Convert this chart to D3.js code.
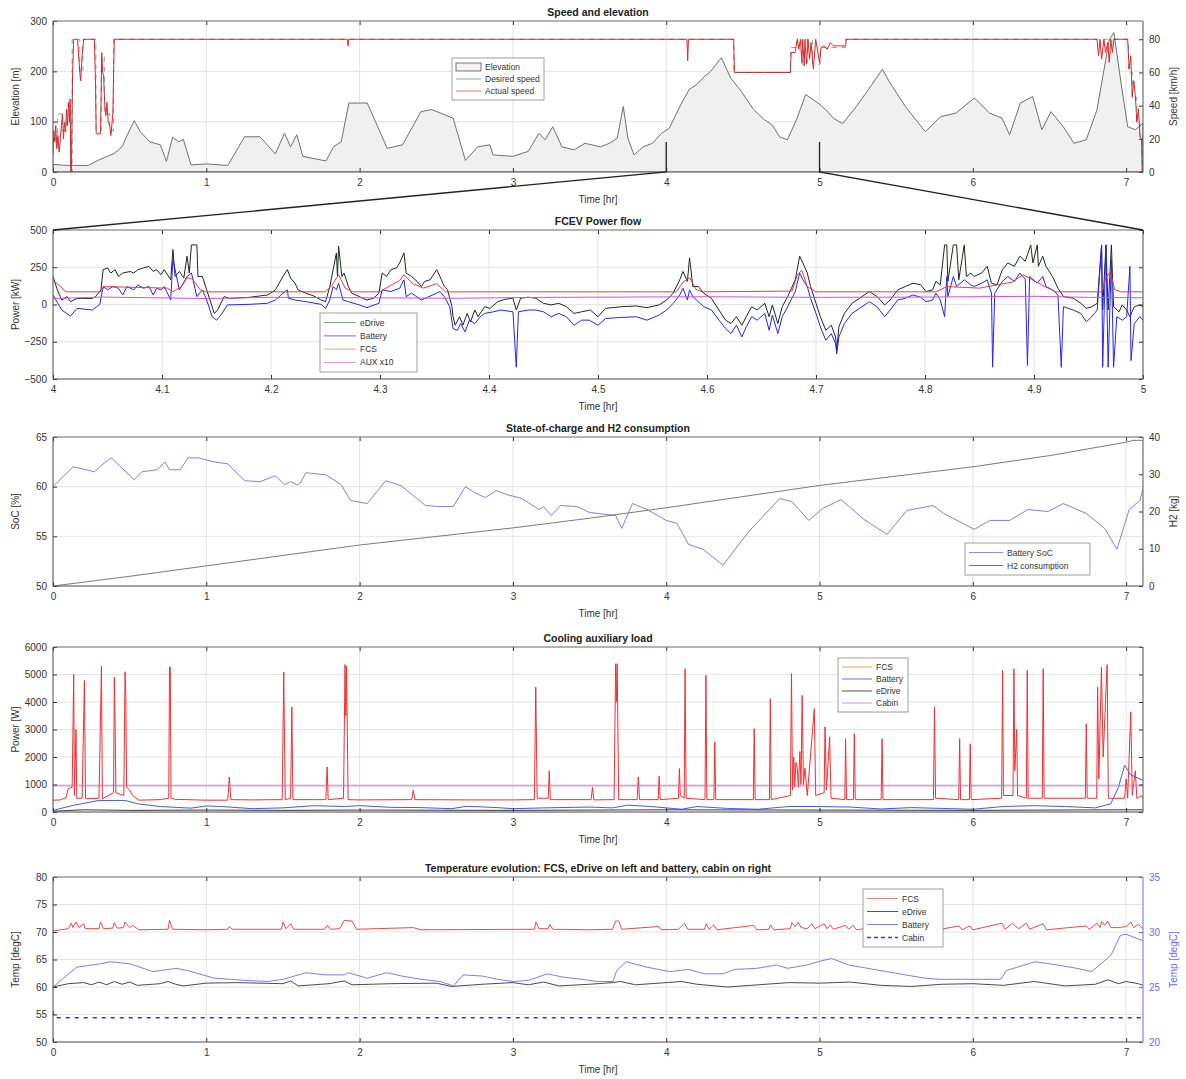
<!DOCTYPE html>
<html>
<head>
<meta charset="utf-8">
<script src="https://cdn.jsdelivr.net/npm/d3@7"></script>
<style>
  body { margin: 0; background: #fff; }
  svg { font-family: "Liberation Sans", Arial, Helvetica, sans-serif; }
</style>
</head>
<body>
<svg id="chart" width="1186" height="1079"></svg>
<script>
// ---------------- data ----------------
// tick values
const hourTicks = [0, 1, 2, 3, 4, 5, 6, 7];
const zoomHourTicks = [4, 4.1, 4.2, 4.3, 4.4, 4.5, 4.6, 4.7, 4.8, 4.9, 5];
const elevTicks = [0, 100, 200, 300];
const speedTicks = [0, 20, 40, 60, 80];
const powerKwTicks = [-500, -250, 0, 250, 500];
const socTicks = [50, 55, 60, 65];
const h2Ticks = [0, 10, 20, 30, 40];
const coolTicks = [0, 1000, 2000, 3000, 4000, 5000, 6000];
const tempLeftTicks = [50, 55, 60, 65, 70, 75, 80];
const tempRightTicks = [20, 25, 30, 35];

// route elevation [hr, m]
const elevation = [[0,15],[0.05,14],[0.1,13],[0.23,13],[0.3,24],[0.4,37],[0.45,50],[0.49,77],[0.53,102],[0.57,80],[0.63,60],[0.7,54],[0.74,21],[0.78,69],[0.82,60],[0.85,65],[0.9,14],[1.0,16],[1.14,13],[1.25,70],[1.35,70],[1.45,36],[1.51,77],[1.55,50],[1.59,74],[1.63,31],[1.78,22],[1.83,50],[1.88,60],[1.93,137],[2.05,137],[2.18,47],[2.28,54],[2.4,120],[2.47,124],[2.61,107],[2.69,23],[2.77,50],[2.85,54],[2.87,34],[3.0,31],[3.1,41],[3.17,77],[3.21,64],[3.26,90],[3.32,50],[3.4,44],[3.47,57],[3.57,50],[3.63,57],[3.68,67],[3.72,130],[3.75,67],[3.79,34],[3.85,50],[3.91,57],[3.97,77],[4.02,87],[4.1,137],[4.15,164],[4.2,174],[4.25,190],[4.29,200],[4.36,227],[4.42,187],[4.49,160],[4.57,124],[4.64,104],[4.69,94],[4.74,70],[4.79,64],[4.85,104],[4.91,154],[4.99,137],[5.04,124],[5.09,107],[5.15,96],[5.24,130],[5.31,160],[5.41,204],[5.46,177],[5.56,130],[5.69,80],[5.79,110],[5.89,117],[6.01,147],[6.11,117],[6.19,107],[6.24,74],[6.31,137],[6.39,150],[6.45,84],[6.51,120],[6.59,90],[6.66,57],[6.74,64],[6.81,124],[6.89,263],[6.92,277],[6.97,170],[7.01,90],[7.06,84],[7.11,97]];

// actual vehicle speed [hr, km/h]
const actualSpeed = [[0,10],[0.005,25],[0.012,18],[0.018,28],[0.025,14],[0.032,22],[0.04,12],[0.048,20],[0.055,28],[0.062,35],[0.068,20],[0.075,30],[0.082,24],[0.088,38],[0.095,28],[0.102,42],[0.108,30],[0.112,44],[0.116,0],[0.12,0],[0.128,60],[0.135,80],[0.16,80],[0.175,60],[0.18,55],[0.19,70],[0.2,80],[0.27,80],[0.278,50],[0.282,23],[0.31,23],[0.318,72],[0.324,60],[0.33,58],[0.338,40],[0.345,34],[0.352,42],[0.36,30],[0.37,28],[0.378,22],[0.39,35],[0.4,80],[1.92,80],[1.925,76],[1.93,80],[4.135,80],[4.14,67],[4.145,80],[4.44,80],[4.445,60],[4.81,60],[4.815,72],[4.84,72],[4.855,80],[4.865,74],[4.875,80],[4.885,66],[4.89,80],[4.9,64],[4.905,80],[4.915,65],[4.925,80],[4.935,68],[4.945,78],[4.96,62],[4.975,80],[5.0,66],[5.01,75],[5.03,76],[5.05,74],[5.07,78],[5.09,76],[5.17,76],[5.175,80],[6.81,80],[6.82,70],[6.83,80],[6.84,68],[6.855,80],[6.865,72],[6.88,78],[6.89,66],[6.9,80],[6.91,72],[6.92,80],[7.01,80],[7.02,62],[7.03,70],[7.04,45],[7.05,55],[7.06,46],[7.07,30],[7.08,38],[7.09,22],[7.1,20],[7.105,0],[7.11,0]];

// desired speed (piecewise constant) [hr, km/h]
const desiredSpeed = [[0,20],[0.03,35],[0.06,25],[0.09,40],[0.116,0],[0.125,80],[0.175,60],[0.195,80],[0.28,25],[0.315,70],[0.335,35],[0.37,25],[0.395,80],[4.44,60],[4.81,75],[4.855,80],[4.885,65],[4.92,80],[4.955,65],[5.005,75],[5.17,80],[7.015,60],[7.04,45],[7.07,30],[7.09,20],[7.105,0],[7.11,0]];

// power flow between 4 and 5 hr [hr, kW]
const eDrivePower = [[4.000,188],[4.004,98],[4.008,30],[4.013,53],[4.016,19],[4.022,41],[4.036,41],[4.039,53],[4.044,98],[4.046,234],[4.050,245],[4.053,211],[4.057,234],[4.060,188],[4.064,211],[4.071,222],[4.074,211],[4.078,234],[4.083,245],[4.088,256],[4.092,222],[4.095,234],[4.099,200],[4.102,234],[4.108,166],[4.110,369],[4.112,188],[4.116,222],[4.120,177],[4.123,324],[4.125,211],[4.127,400],[4.132,400],[4.133,188],[4.137,188],[4.141,98],[4.144,30],[4.148,-60],[4.151,-37],[4.157,53],[4.162,41],[4.180,48],[4.197,64],[4.204,98],[4.211,188],[4.215,234],[4.218,177],[4.222,143],[4.225,98],[4.232,76],[4.239,58],[4.246,30],[4.250,19],[4.254,121],[4.257,234],[4.260,346],[4.261,188],[4.262,392],[4.265,188],[4.267,211],[4.271,121],[4.274,76],[4.281,53],[4.288,30],[4.294,42],[4.299,76],[4.302,211],[4.306,188],[4.310,234],[4.315,245],[4.318,279],[4.322,346],[4.324,211],[4.329,188],[4.334,155],[4.338,121],[4.341,155],[4.346,166],[4.352,234],[4.355,188],[4.359,121],[4.362,98],[4.366,-15],[4.367,-82],[4.369,-139],[4.373,-82],[4.376,-139],[4.380,-60],[4.383,-116],[4.387,-37],[4.390,-82],[4.396,-15],[4.401,-26],[4.408,19],[4.415,35],[4.422,42],[4.425,-37],[4.429,42],[4.436,49],[4.443,42],[4.450,8],[4.457,-3],[4.464,8],[4.471,-15],[4.478,-60],[4.485,-49],[4.493,-37],[4.500,-82],[4.507,-26],[4.521,-15],[4.535,-10],[4.545,-21],[4.556,-3],[4.563,30],[4.569,76],[4.575,166],[4.578,222],[4.582,155],[4.584,313],[4.587,121],[4.592,121],[4.597,76],[4.604,42],[4.611,-37],[4.617,-105],[4.622,-128],[4.627,-82],[4.632,-139],[4.636,-82],[4.641,-15],[4.646,-37],[4.653,8],[4.657,-82],[4.660,-3],[4.665,-128],[4.669,-15],[4.674,53],[4.681,166],[4.685,324],[4.688,279],[4.692,211],[4.695,121],[4.700,8],[4.704,-82],[4.709,-173],[4.714,-139],[4.718,-218],[4.719,-308],[4.721,-150],[4.726,-60],[4.733,8],[4.740,42],[4.749,87],[4.756,53],[4.763,-3],[4.768,30],[4.775,98],[4.782,121],[4.789,143],[4.796,132],[4.801,87],[4.807,98],[4.810,155],[4.814,132],[4.818,400],[4.820,400],[4.821,155],[4.826,400],[4.829,400],[4.831,166],[4.836,400],[4.838,188],[4.842,211],[4.845,188],[4.852,211],[4.857,256],[4.861,143],[4.866,132],[4.871,234],[4.876,279],[4.882,256],[4.887,324],[4.892,290],[4.897,400],[4.899,279],[4.903,400],[4.904,256],[4.908,324],[4.911,256],[4.917,188],[4.922,109],[4.927,53],[4.936,42],[4.943,8],[4.948,-26],[4.953,-15],[4.958,8],[4.962,400],[4.963,-37],[4.966,400],[4.968,-37],[4.971,400],[4.973,-15],[4.978,-49],[4.981,-3],[4.985,-37],[4.988,-82],[4.992,-15],[4.997,-3],[5.000,-15]];

const batteryPower = [[4.000,64],[4.008,-37],[4.016,-78],[4.022,-26],[4.036,-37],[4.043,1],[4.046,121],[4.050,98],[4.055,121],[4.060,109],[4.064,64],[4.068,121],[4.074,98],[4.078,132],[4.083,109],[4.088,121],[4.092,64],[4.095,109],[4.099,98],[4.102,121],[4.108,30],[4.110,301],[4.116,98],[4.123,188],[4.127,211],[4.132,53],[4.137,98],[4.141,30],[4.146,-82],[4.150,-105],[4.154,-71],[4.160,-3],[4.180,1],[4.197,8],[4.204,30],[4.211,76],[4.215,98],[4.216,42],[4.222,30],[4.232,19],[4.246,1],[4.250,-26],[4.254,30],[4.257,121],[4.260,98],[4.262,143],[4.266,30],[4.271,19],[4.281,-3],[4.288,-21],[4.299,8],[4.302,98],[4.310,87],[4.318,109],[4.322,166],[4.324,53],[4.329,76],[4.338,30],[4.352,76],[4.355,87],[4.359,53],[4.364,-15],[4.367,-161],[4.371,-173],[4.374,-128],[4.378,-184],[4.382,-105],[4.387,-128],[4.392,-82],[4.396,-60],[4.404,-49],[4.411,-37],[4.422,-49],[4.425,-421],[4.427,-49],[4.436,-37],[4.443,-37],[4.450,-49],[4.457,-82],[4.464,-60],[4.471,-82],[4.478,-139],[4.485,-105],[4.492,-105],[4.500,-139],[4.507,-94],[4.521,-87],[4.535,-82],[4.545,-105],[4.556,-71],[4.563,-37],[4.569,8],[4.575,64],[4.578,109],[4.582,30],[4.584,98],[4.587,53],[4.597,-15],[4.604,-37],[4.611,-105],[4.617,-161],[4.622,-195],[4.627,-139],[4.632,-218],[4.636,-150],[4.641,-82],[4.646,-105],[4.653,-60],[4.657,-173],[4.660,-71],[4.665,-195],[4.669,-82],[4.674,-15],[4.681,87],[4.685,211],[4.688,166],[4.692,121],[4.695,42],[4.700,-60],[4.704,-150],[4.709,-240],[4.714,-195],[4.718,-263],[4.719,-331],[4.721,-218],[4.726,-128],[4.733,-60],[4.740,-26],[4.749,19],[4.756,-15],[4.763,-82],[4.768,-37],[4.775,30],[4.782,42],[4.789,64],[4.796,49],[4.801,19],[4.807,30],[4.810,76],[4.814,30],[4.818,-82],[4.820,188],[4.821,53],[4.826,188],[4.829,121],[4.836,166],[4.842,132],[4.845,121],[4.852,143],[4.857,166],[4.861,76],[4.862,-421],[4.864,76],[4.871,155],[4.876,188],[4.882,155],[4.887,211],[4.892,170],[4.894,-410],[4.896,188],[4.903,143],[4.908,188],[4.911,121],[4.917,98],[4.922,64],[4.925,-421],[4.927,-15],[4.936,-37],[4.943,-60],[4.948,-116],[4.953,-82],[4.958,-37],[4.962,400],[4.963,-421],[4.966,400],[4.968,-421],[4.971,301],[4.973,-421],[4.976,-82],[4.981,-105],[4.985,-82],[4.988,256],[4.989,-376],[4.992,-128],[4.997,-82],[5.000,-105]];

const fcsPower = [[4.000,165],[4.012,85],[4.044,85],[4.047,120],[4.105,110],[4.110,85],[4.118,120],[4.123,180],[4.128,170],[4.135,100],[4.140,85],[4.250,85],[4.256,130],[4.262,200],[4.268,110],[4.275,85],[4.300,85],[4.310,130],[4.318,160],[4.322,200],[4.330,140],[4.340,110],[4.352,140],[4.360,85],[4.572,85],[4.578,150],[4.584,180],[4.590,100],[4.596,85],[4.678,90],[4.683,200],[4.687,230],[4.692,120],[4.700,85],[4.810,85],[4.820,120],[4.850,110],[4.880,150],[4.890,200],[4.900,160],[4.910,120],[4.920,85],[4.962,85],[4.966,180],[4.970,220],[4.974,100],[4.980,85],[5.000,85]];

const auxPowerX10 = [[4.000,40],[4.045,50],[4.140,40],[4.200,48],[4.370,42],[4.450,48],[4.600,52],[4.700,48],[4.800,50],[4.900,55],[4.950,48],[5.000,45]];

// state of charge [hr, %] and hydrogen used [hr, kg]
const batterySoc = [[0,60.0],[0.13,62.0],[0.19,61.8],[0.27,61.5],[0.32,62.2],[0.38,62.9],[0.53,60.7],[0.58,61.5],[0.68,61.7],[0.73,62.5],[0.76,61.7],[0.83,61.7],[0.88,62.9],[0.95,62.9],[1.05,62.5],[1.14,62.3],[1.25,60.6],[1.35,60.5],[1.45,61.1],[1.51,60.2],[1.55,60.5],[1.59,60.2],[1.61,60.3],[1.65,61.4],[1.78,61.2],[1.88,60.2],[1.94,58.6],[2.05,58.3],[2.17,60.6],[2.27,60.1],[2.43,58.1],[2.52,58.0],[2.61,58.0],[2.69,60.0],[2.75,59.4],[2.82,58.9],[2.89,59.6],[2.96,59.2],[3.06,58.8],[3.17,57.7],[3.2,58.0],[3.25,57.1],[3.31,58.1],[3.42,58.0],[3.5,57.4],[3.67,57.1],[3.71,55.8],[3.78,58.3],[3.875,57.7],[4.0,56.6],[4.07,56.3],[4.145,54.2],[4.24,53.7],[4.37,52.1],[4.54,55.5],[4.74,58.8],[4.82,58.5],[4.93,56.6],[5.02,57.8],[5.14,58.7],[5.29,56.7],[5.44,55.2],[5.57,57.6],[5.74,58.1],[5.81,57.3],[6.01,55.7],[6.11,56.6],[6.24,56.6],[6.36,57.7],[6.49,57.5],[6.59,58.3],[6.74,57.3],[6.86,55.8],[6.94,53.7],[7.02,57.7],[7.09,58.6],[7.11,59.8]];

const h2Used = [[0,0],[0.5,2.6],[1,5.4],[1.5,8.2],[2,11.0],[2.5,13.3],[3,15.6],[3.5,18.2],[4,21.0],[4.5,24.0],[5,27.0],[5.5,29.5],[6,32.0],[6.5,35.0],[7,38.6],[7.05,39.1],[7.11,39.1]];

// cooling auxiliary load [hr, W]
const coolFcs = [[0,430],[0.05,440],[0.085,520],[0.1,850],[0.125,900],[0.135,5000],[0.14,600],[0.15,3000],[0.155,500],[0.19,500],[0.205,4790],[0.212,480],[0.3,500],[0.316,5300],[0.322,480],[0.395,700],[0.4,4900],[0.405,3300],[0.41,700],[0.462,600],[0.47,5100],[0.475,4200],[0.48,900],[0.5,800],[0.52,600],[0.56,430],[0.7,450],[0.755,500],[0.76,5270],[0.765,5270],[0.77,500],[0.8,460],[1.0,430],[1.14,430],[1.15,1270],[1.16,450],[1.3,440],[1.495,450],[1.505,5090],[1.515,450],[1.55,500],[1.558,3820],[1.565,450],[1.7,450],[1.78,450],[1.788,1640],[1.795,450],[1.895,500],[1.905,5360],[1.91,3500],[1.915,5300],[1.925,450],[2.0,440],[2.34,450],[2.35,790],[2.36,450],[2.7,440],[3.0,440],[3.14,450],[3.149,4540],[3.158,500],[3.23,500],[3.237,1500],[3.244,450],[3.51,450],[3.519,900],[3.528,440],[3.66,450],[3.67,5390],[3.675,4000],[3.68,5390],[3.69,450],[3.81,450],[3.818,1270],[3.826,450],[3.947,450],[3.954,1300],[3.961,450],[4.08,500],[4.086,1580],[4.092,600],[4.117,500],[4.123,5210],[4.13,500],[4.253,450],[4.259,4970],[4.265,450],[4.311,450],[4.317,2545],[4.323,450],[4.568,450],[4.574,3030],[4.58,450],[4.673,450],[4.679,4120],[4.685,450],[4.81,600],[4.817,5030],[4.824,800],[4.832,2000],[4.838,900],[4.846,1800],[4.855,1580],[4.862,900],[4.872,2200],[4.879,1000],[4.887,4240],[4.895,1000],[4.905,1600],[4.92,600],[4.966,3760],[4.975,600],[5.03,700],[5.036,3090],[5.045,800],[5.066,2730],[5.075,500],[5.165,450],[5.17,2670],[5.176,450],[5.221,450],[5.227,2850],[5.233,450],[5.402,450],[5.408,2670],[5.414,450],[5.743,450],[5.75,3820],[5.757,500],[5.908,450],[5.914,2670],[5.92,450],[5.977,450],[5.983,2480],[5.989,450],[6.188,500],[6.194,5150],[6.2,600],[6.262,600],[6.268,5210],[6.274,1500],[6.286,3000],[6.292,600],[6.349,500],[6.355,5150],[6.361,500],[6.453,500],[6.459,5210],[6.465,500],[6.734,500],[6.74,3210],[6.746,500],[6.808,500],[6.814,4540],[6.822,1200],[6.839,5270],[6.85,2000],[6.876,5360],[6.884,500],[6.99,500],[7.0,1200],[7.01,500],[7.03,3640],[7.04,600],[7.06,1500],[7.07,500],[7.1,600],[7.11,500]];

const coolBattery = [[0,60],[0.13,240],[0.3,420],[0.47,420],[0.55,300],[0.7,200],[0.9,140],[1.0,220],[1.1,200],[1.3,120],[1.5,150],[1.7,230],[1.9,200],[2.0,230],[2.2,170],[2.4,160],[2.6,120],[2.7,210],[2.9,160],[3.0,120],[3.2,150],[3.5,180],[3.65,150],[3.75,250],[3.9,200],[4.0,150],[4.1,100],[4.2,200],[4.4,130],[4.6,100],[4.8,200],[5.0,200],[5.2,180],[5.4,110],[5.6,160],[5.8,130],[6.0,100],[6.2,200],[6.4,230],[6.6,200],[6.8,150],[6.9,300],[6.95,900],[6.99,1700],[7.03,1350],[7.11,1150]];

const coolEdrive = [[0,30],[0.2,80],[0.5,60],[1,70],[1.5,60],[2,70],[3,60],[4,80],[5,70],[6,60],[7,80],[7.11,80]];

const coolCabin = [[0,950],[7.11,950]];

// component temperatures [hr, degC]
const tempFcs = [[0,70.2],[0.05,70.4],[0.1,70.6],[0.12,71.6],[0.13,70.8],[0.15,71.8],[0.17,70.8],[0.2,71.5],[0.21,70.6],[0.3,70.6],[0.31,71.8],[0.33,70.6],[0.39,70.7],[0.4,71.7],[0.42,70.7],[0.46,70.8],[0.47,71.8],[0.5,70.8],[0.52,71.2],[0.56,70.4],[0.75,70.5],[0.76,72.1],[0.78,70.5],[1.0,70.4],[1.14,70.5],[1.15,71.0],[1.17,70.5],[1.49,70.5],[1.5,71.8],[1.52,70.6],[1.55,71.5],[1.57,70.5],[1.77,70.5],[1.79,71.2],[1.81,70.5],[1.87,70.6],[1.9,72.1],[1.95,72.0],[1.98,70.5],[2.35,70.8],[2.4,70.4],[3.14,70.5],[3.15,71.8],[3.17,70.6],[3.23,70.6],[3.24,71.4],[3.26,70.5],[3.5,70.4],[3.65,70.5],[3.67,72.0],[3.69,72.0],[3.71,70.5],[3.95,71.0],[3.97,70.4],[4.08,70.5],[4.12,71.6],[4.14,70.5],[4.25,70.5],[4.26,71.5],[4.28,70.5],[4.31,71.3],[4.33,70.4],[4.57,71.2],[4.59,70.4],[4.67,70.5],[4.68,71.3],[4.7,70.4],[4.81,70.6],[4.82,71.7],[4.84,71.0],[4.86,71.8],[4.88,70.8],[4.92,70.6],[4.95,71.5],[4.97,70.6],[5.03,71.5],[5.05,70.6],[5.07,71.3],[5.09,70.5],[5.17,71.2],[5.19,70.5],[5.22,71.2],[5.24,70.4],[5.4,71.0],[5.42,70.4],[5.75,71.3],[5.77,70.4],[5.91,71.1],[5.93,70.4],[5.98,71.1],[6.0,70.4],[6.19,71.6],[6.21,70.5],[6.26,71.6],[6.28,71.0],[6.3,70.6],[6.35,71.6],[6.37,70.5],[6.46,71.5],[6.48,70.4],[6.74,71.1],[6.76,70.5],[6.81,71.6],[6.83,70.8],[6.84,71.9],[6.86,71.2],[6.88,72.0],[6.9,70.8],[6.95,70.8],[7.0,71.0],[7.03,71.8],[7.05,70.8],[7.08,71.4],[7.11,70.6]];

const tempEdrive = [[0,60.0],[0.1,60.6],[0.2,60.8],[0.25,60.4],[0.3,60.9],[0.35,60.4],[0.4,61.0],[0.45,60.5],[0.5,60.9],[0.55,60.3],[0.7,60.6],[0.75,61.0],[0.8,60.5],[0.85,60.2],[1.0,60.7],[1.2,60.8],[1.5,60.6],[1.55,61.1],[1.6,60.2],[1.8,60.6],[1.9,61.1],[1.95,60.4],[2.2,60.6],[2.5,60.7],[2.6,60.1],[2.8,60.5],[3.0,60.8],[3.1,60.4],[3.2,60.9],[3.3,60.2],[3.5,60.5],[3.65,60.8],[3.7,61.0],[3.8,60.4],[4.0,60.8],[4.1,61.0],[4.2,60.5],[4.4,60.0],[4.6,60.4],[4.8,60.8],[5.0,60.7],[5.2,60.9],[5.4,60.3],[5.6,60.1],[5.8,60.5],[6.0,60.6],[6.2,60.3],[6.4,61.0],[6.6,60.2],[6.8,60.5],[6.88,61.3],[6.95,60.6],[7.0,61.0],[7.08,60.6],[7.11,60.3]];

const tempBattery = [[0,25.0],[0.153,26.8],[0.303,27.1],[0.378,27.3],[0.503,27.1],[0.653,26.4],[0.803,26.7],[0.877,26.5],[0.952,26.2],[1.052,25.8],[1.252,25.6],[1.402,25.5],[1.502,25.7],[1.651,26.3],[1.776,26.1],[1.901,26.1],[1.926,26.3],[2.051,25.8],[2.176,26.3],[2.275,26.0],[2.4,25.7],[2.525,25.5],[2.613,25.1],[2.675,26.1],[2.8,26.0],[2.9,25.7],[3.0,25.5],[3.1,25.6],[3.225,26.2],[3.325,25.9],[3.45,25.7],[3.55,25.5],[3.652,25.5],[3.677,26.5],[3.739,27.3],[3.875,26.8],[4.024,26.4],[4.148,26.6],[4.247,26.2],[4.371,26.2],[4.445,26.6],[4.594,26.7],[4.718,27.0],[4.793,26.7],[4.917,27.0],[4.991,27.3],[5.078,27.6],[5.19,27.0],[5.313,26.7],[5.437,26.4],[5.562,26.1],[5.686,25.8],[5.785,25.7],[5.983,25.7],[6.182,25.7],[6.219,26.5],[6.405,27.3],[6.554,27.0],[6.678,26.7],[6.777,26.4],[6.851,27.3],[6.901,27.9],[6.963,29.7],[7.0,29.8],[7.11,29.2]];

const tempCabin = [[0,22.8],[0.01,22.2],[7.11,22.2]];

// ---------------- drawing ----------------
const svg = d3.select("#chart");
const LEFT = 53, RIGHT = 1143;
const axisColor = "#333";

function makePanel(o) {
  const x = d3.scaleLinear().domain(o.xDomain).range([LEFT, RIGHT]);
  const y = d3.scaleLinear().domain(o.yDomain).range([o.bottom, o.top]);
  const y2 = o.y2Domain ? d3.scaleLinear().domain(o.y2Domain).range([o.bottom, o.top]) : null;
  const root = svg.append("g");

  // background grid
  const grid = root.append("g").attr("stroke", "#e4e4e4").attr("stroke-width", 1);
  grid.selectAll("line.vx").data(o.xTicks).join("line").attr("class", "vx")
    .attr("x1", d => x(d)).attr("x2", d => x(d)).attr("y1", o.top).attr("y2", o.bottom);
  grid.selectAll("line.hy").data(o.yTicks).join("line").attr("class", "hy")
    .attr("x1", LEFT).attr("x2", RIGHT).attr("y1", d => y(d)).attr("y2", d => y(d));

  // clipped plotting layer
  const clipId = "clip" + o.id;
  svg.append("clipPath").attr("id", clipId).append("rect")
    .attr("x", LEFT).attr("y", o.top).attr("width", RIGHT - LEFT).attr("height", o.bottom - o.top);
  const plot = root.append("g").attr("clip-path", `url(#${clipId})`);

  // axes layer (drawn above data)
  const axes = root.append("g");
  const fmt = d3.format("");
  const styleAxis = (sel, color) => {
    sel.select(".domain").remove();
    sel.selectAll(".tick line").attr("stroke", color || axisColor);
    sel.selectAll(".tick text").attr("fill", color || axisColor).attr("font-size", 10);
  };
  axes.append("g").attr("transform", `translate(0,${o.bottom})`)
    .call(d3.axisBottom(x).tickValues(o.xTicks).tickSize(-4).tickPadding(7).tickFormat(fmt))
    .call(s => styleAxis(s));
  axes.append("g").attr("transform", `translate(0,${o.top})`)
    .call(d3.axisTop(x).tickValues(o.xTicks).tickSize(-4).tickFormat(""))
    .call(s => styleAxis(s));
  axes.append("g").attr("transform", `translate(${LEFT},0)`)
    .call(d3.axisLeft(y).tickValues(o.yTicks).tickSize(-4).tickPadding(6).tickFormat(fmt))
    .call(s => styleAxis(s));
  if (y2) {
    axes.append("g").attr("transform", `translate(${RIGHT},0)`)
      .call(d3.axisRight(y2).tickValues(o.y2Ticks).tickSize(-4).tickPadding(6).tickFormat(fmt))
      .call(s => styleAxis(s, o.y2Color));
  } else {
    axes.append("g").attr("transform", `translate(${RIGHT},0)`)
      .call(d3.axisRight(y).tickValues(o.yTicks).tickSize(-4).tickFormat(""))
      .call(s => styleAxis(s));
  }
  // frame
  axes.append("path")
    .attr("d", `M${LEFT},${o.top}H${RIGHT}`).attr("stroke", "#777").attr("fill", "none");
  axes.append("path")
    .attr("d", `M${LEFT},${o.top}V${o.bottom}H${RIGHT}`).attr("stroke", "#555").attr("fill", "none");
  axes.append("path")
    .attr("d", `M${RIGHT},${o.top}V${o.bottom}`).attr("stroke", o.y2Color || "#555").attr("fill", "none");

  // title & labels
  root.append("text").attr("x", (LEFT + RIGHT) / 2).attr("y", o.top - 5)
    .attr("text-anchor", "middle").attr("font-size", 10.5).attr("font-weight", "bold")
    .attr("fill", "#222").text(o.title);
  root.append("text").attr("x", (LEFT + RIGHT) / 2).attr("y", o.bottom + 31)
    .attr("text-anchor", "middle").attr("font-size", 10).attr("fill", axisColor).text("Time [hr]");
  root.append("text")
    .attr("transform", `translate(19,${(o.top + o.bottom) / 2}) rotate(-90)`)
    .attr("text-anchor", "middle").attr("font-size", 10).attr("fill", axisColor).text(o.yLabel);
  if (o.y2Label) {
    root.append("text")
      .attr("transform", `translate(1177,${(o.top + o.bottom) / 2}) rotate(-90)`)
      .attr("text-anchor", "middle").attr("font-size", 10).attr("fill", o.y2Color || axisColor)
      .text(o.y2Label);
  }
  return { x, y, y2, plot, o };
}

function drawLine(p, data, color, opts = {}) {
  const ys = opts.right ? p.y2 : p.y;
  const gen = d3.line().x(d => p.x(d[0])).y(d => ys(d[1]));
  if (opts.curve) gen.curve(opts.curve);
  p.plot.append("path").datum(data).attr("d", gen)
    .attr("fill", "none").attr("stroke", color).attr("stroke-width", opts.width || 1)
    .attr("stroke-dasharray", opts.dash || null).attr("stroke-linejoin", "round")
    .attr("opacity", opts.opacity || 1);
}

function drawLegend(x0, y0, w, h, items) {
  const g = svg.append("g");
  g.append("rect").attr("x", x0).attr("y", y0).attr("width", w).attr("height", h)
    .attr("fill", "#fff").attr("stroke", "#888").attr("stroke-width", 0.8);
  const step = (h - 6) / items.length;
  items.forEach((it, i) => {
    const cy = y0 + 3 + step * (i + 0.5);
    if (it.patch) {
      g.append("rect").attr("x", x0 + 4).attr("y", cy - 4).attr("width", 25).attr("height", 8)
        .attr("fill", it.fill).attr("stroke", it.color).attr("stroke-width", 0.8);
    } else {
      g.append("line").attr("x1", x0 + 4).attr("x2", x0 + 4 + it.len).attr("y1", cy).attr("y2", cy)
        .attr("stroke", it.color).attr("stroke-width", it.width || 1).attr("stroke-dasharray", it.dash || null);
    }
    g.append("text").attr("x", x0 + 8 + (it.patch ? 25 : it.len)).attr("y", cy + 3)
      .attr("font-size", 8.5).attr("fill", "#333").text(it.label);
  });
}

// ---- panel 1: speed and elevation ----
const p1 = makePanel({ id: 1, top: 21, bottom: 172, xDomain: [0, 7.11], xTicks: hourTicks,
  yDomain: [0, 300], yTicks: elevTicks, y2Domain: [0, 91], y2Ticks: speedTicks,
  title: "Speed and elevation", yLabel: "Elevation [m]", y2Label: "Speed [km/h]" });
p1.plot.append("path").datum(elevation)
  .attr("d", d3.area().x(d => p1.x(d[0])).y0(p1.y(0)).y1(d => p1.y(d[1])))
  .attr("fill", "#f0f0f0").attr("stroke", "#707070").attr("stroke-width", 1);
drawLine(p1, actualSpeed, "#e02828", { right: true });
drawLine(p1, desiredSpeed, "#3c544c", { right: true, dash: "5,5", curve: d3.curveStepAfter, opacity: 0.55 });
drawLegend(452, 58, 92, 42, [
  { label: "Elevation", patch: true, color: "#555", fill: "#f2f2f2" },
  { label: "Desired speed", color: "#8aa89c", len: 25 },
  { label: "Actual speed", color: "#f07070", len: 25 }
]);

// ---- panel 2: power flow (zoom 4..5 hr) ----
const p2 = makePanel({ id: 2, top: 230, bottom: 379, xDomain: [4, 5], xTicks: zoomHourTicks,
  yDomain: [-500, 500], yTicks: powerKwTicks, title: "FCEV Power flow", yLabel: "Power [kW]" });
drawLine(p2, eDrivePower, "#1e2a1e");
drawLine(p2, batteryPower, "#2424ff");
drawLine(p2, fcsPower, "#f03a3a");
drawLine(p2, auxPowerX10, "#d050e0");
drawLegend(320, 313, 97, 59, [
  { label: "eDrive", color: "#7c9a84", len: 32 },
  { label: "Battery", color: "#6a6aff", len: 32 },
  { label: "FCS", color: "#f0a070", len: 32 },
  { label: "AUX x10", color: "#d890e0", len: 32 }
]);

// zoom connector from the top panel to the power-flow panel
const zoomGuides = [4, 5];
svg.append("g").attr("stroke", "#222").attr("stroke-width", 1.3).attr("fill", "none")
  .selectAll("path").data(zoomGuides).join("path")
  .attr("d", (d, i) => {
    const xt = p1.x(d);
    const xb = i === 0 ? LEFT : RIGHT;
    return `M${xt},${p1.o.bottom - 30}V${p1.o.bottom}L${xb},${p2.o.top}`;
  });

// ---- panel 3: state of charge and H2 ----
const p3 = makePanel({ id: 3, top: 437, bottom: 586, xDomain: [0, 7.11], xTicks: hourTicks,
  yDomain: [50, 65], yTicks: socTicks, y2Domain: [0, 40], y2Ticks: h2Ticks,
  title: "State-of-charge and H2 consumption", yLabel: "SoC [%]", y2Label: "H2 [kg]" });
drawLine(p3, batterySoc, "#7f7ff0");
drawLine(p3, h2Used, "#7a7a7a", { right: true });
drawLegend(965, 543, 125, 32, [
  { label: "Battery SoC", color: "#8c8cf0", len: 34 },
  { label: "H2 consumption", color: "#777", len: 34 }
]);

// ---- panel 4: cooling auxiliary load ----
const p4 = makePanel({ id: 4, top: 647, bottom: 812, xDomain: [0, 7.11], xTicks: hourTicks,
  yDomain: [0, 6000], yTicks: coolTicks, title: "Cooling auxiliary load", yLabel: "Power [W]" });
drawLine(p4, coolFcs, "#f23030");
drawLine(p4, coolBattery, "#4a58e6");
drawLine(p4, coolEdrive, "#3a3a3a");
drawLine(p4, coolCabin, "#c870ea");
drawLegend(838, 658, 70, 54, [
  { label: "FCS", color: "#f0a070", len: 30 },
  { label: "Battery", color: "#6a6aee", len: 30 },
  { label: "eDrive", color: "#555", len: 30 },
  { label: "Cabin", color: "#d090ee", len: 30 }
]);

// ---- panel 5: temperatures ----
const p5 = makePanel({ id: 5, top: 877, bottom: 1042, xDomain: [0, 7.11], xTicks: hourTicks,
  yDomain: [50, 80], yTicks: tempLeftTicks, y2Domain: [20, 35], y2Ticks: tempRightTicks,
  y2Color: "#6a6aff",
  title: "Temperature evolution: FCS, eDrive on left and battery, cabin on right",
  yLabel: "Temp [degC]", y2Label: "Temp [degC]" });
drawLine(p5, tempFcs, "#f04848");
drawLine(p5, tempEdrive, "#4a4a4a");
drawLine(p5, tempBattery, "#7b7bff", { right: true });
drawLine(p5, tempCabin, "#3434ee", { right: true, dash: "4,5", width: 1.4 });
drawLegend(863, 889, 80, 58, [
  { label: "FCS", color: "#f08080", len: 31 },
  { label: "eDrive", color: "#555", len: 31 },
  { label: "Battery", color: "#8080ff", len: 31 },
  { label: "Cabin", color: "#3c3cee", len: 31, dash: "4,3", width: 1.4 }
]);
</script>
</body>
</html>
